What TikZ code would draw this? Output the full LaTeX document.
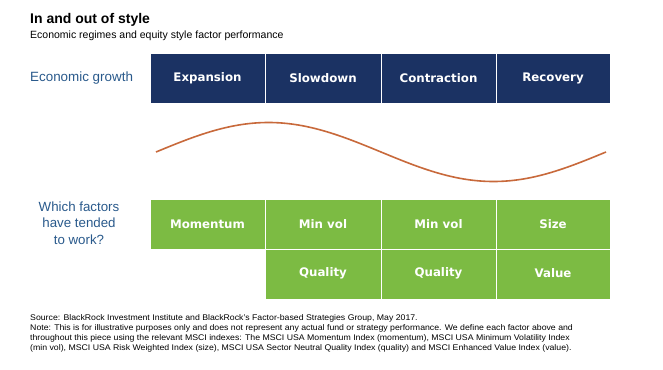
\documentclass[tikz,border=0pt]{standalone}
\usepackage{fontspec}
\setmainfont{Liberation Sans}
\newfontfamily\hdr{DejaVu Sans}
\definecolor{navy}{HTML}{1B3263}
\definecolor{leaf}{HTML}{7CBB43}
\definecolor{labblue}{HTML}{2A5A8C}
\definecolor{wave}{HTML}{C8693B}
\newcommand{\ftxt}[1]{\scalebox{1.065}[1]{#1}}
\begin{document}
\begin{tikzpicture}[x=1pt,y=-1pt,
  hcell/.style={fill=navy,draw=white,line width=0.8pt},
  gcell/.style={fill=leaf,draw=white,line width=0.8pt},
  htext/.style={text=white,font=\hdr\bfseries\fontsize{11.8}{14}\selectfont},
  side/.style={text=labblue,font=\fontsize{13.4}{15}\selectfont},
  foot/.style={anchor=west,inner sep=0pt,font=\fontsize{8.2}{9}\selectfont}]
\useasboundingbox[fill=white] (0,0) rectangle (663,369);
% title
\node[anchor=base west,inner sep=0pt,font=\bfseries\fontsize{14}{16}\selectfont] (title) at (30,24) {In and out of style};
\node[anchor=base west,inner sep=0pt,font=\fontsize{10.5}{12}\selectfont] (sub) at (30,39) {Economic regimes and equity style factor performance};
% header row
\foreach \x/\w/\t [count=\i] in {150/265/Expansion,265/381/Slowdown,381/496/Contraction,496/610/Recovery}{
  \path[hcell] (\x,53) rectangle (\w,103);
  \node[htext] (h\i) at ({(\x+\w)/2},78.5) {\t};
}
\node[side,anchor=west,inner sep=0pt] (eg) at (30,78) {Economic growth};
% wave
\draw[wave,line width=1.6pt,domain=0:360,samples=90,smooth,variable=\a] plot ({156+\a*1.25},{152-29.5*sin(\a)});
% factors
\node[side,align=center,inner sep=0pt,font=\fontsize{13.3}{16.5}\selectfont] (q) at (79,223) {Which factors\\have tended\\to work?};
\foreach \x/\w/\t [count=\i] in {150/265/Momentum,265/381/Min vol,381/496/Min vol,496/610/Size}{
  \path[gcell] (\x,199) rectangle (\w,249);
  \node[htext] (f\i) at ({(\x+\w)/2},224) {\t};
}
\foreach \x/\w/\t [count=\i] in {265/381/Quality,381/496/Quality,496/610/Value}{
  \path[gcell] (\x,249) rectangle (\w,299);
  \node[htext] (g\i) at ({(\x+\w)/2},273) {\t};
}
% footer
\node[foot] (s1) at (30,318.5) {\ftxt{Source: BlackRock Investment Institute and BlackRock's Factor-based Strategies Group, May 2017.}};
\node[foot] (s2) at (30,328.5) {\ftxt{Note: This is for illustrative purposes only and does not represent any actual fund or strategy performance. We define each factor above and}};
\node[foot] (s3) at (30,338.5) {\ftxt{throughout this piece using the relevant MSCI indexes: The MSCI USA Momentum Index (momentum), MSCI USA Minimum Volatility Index}};
\node[foot] (s4) at (30,348.5) {\ftxt{(min vol), MSCI USA Risk Weighted Index (size), MSCI USA Sector Neutral Quality Index (quality) and MSCI Enhanced Value Index (value).}};
\end{tikzpicture}
\end{document}
